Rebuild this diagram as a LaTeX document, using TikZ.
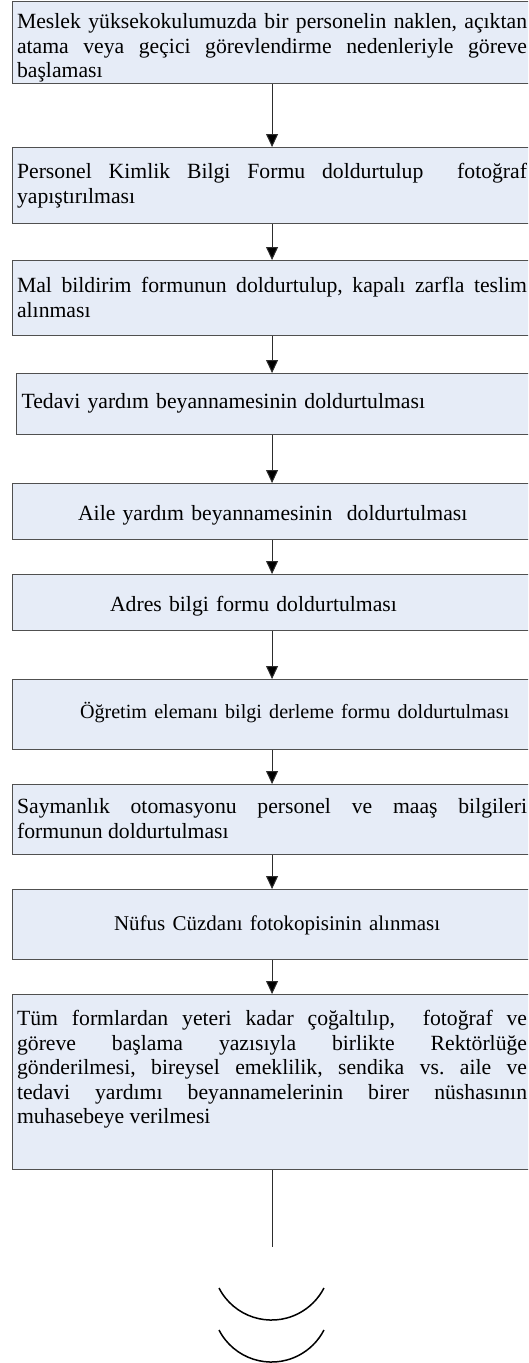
\documentclass[tikz,border=0pt]{standalone}
\usepackage{fontspec}
\setmainfont{Liberation Serif}
\usetikzlibrary{arrows.meta}
\definecolor{boxfill}{RGB}{230,236,247}
\definecolor{boxline}{RGB}{80,80,80}
\definecolor{stemline}{RGB}{45,45,45}
\newcommand\myboxfont{\fontsize{21.7}{24.5}\selectfont\frenchspacing\hyphenpenalty=10000\exhyphenpenalty=10000\tolerance=10000\emergencystretch=20pt}
\newcommand\mysmallfont{\fontsize{20.1}{24.5}\selectfont\frenchspacing}
\newcommand\mymidfont{\fontsize{21}{24.5}\selectfont\frenchspacing}
\tikzset{
  procbox/.style={draw=boxline, fill=boxfill, line width=1.1pt, anchor=north west,
    inner xsep=4.5pt, inner ysep=0pt, text width=510pt, align=justify, font=\myboxfont},
  procsingle/.style={procbox, align=left},
  boxgeom/.style 2 args={text height=#1pt, text depth={#2pt-#1pt}},
  flowarrow/.style={draw=stemline, line width=1pt, -{Triangle[width=12pt,length=13pt,fill=black]}},
  plainline/.style={draw=stemline, line width=1pt},
  arcline/.style={draw=black, line width=1.5pt}
}
\begin{document}
\begin{tikzpicture}[x=1pt,y=1pt]
\useasboundingbox (0,0) rectangle (528,-1363);
\clip (0,0) rectangle (528,-1363);

\node[procbox, boxgeom={27}{82}] (b1) at (12,-1)
  {Meslek yüksekokulumuzda bir personelin naklen, açıktan\linebreak atama veya geçici görevlendirme nedenleriyle göreve\linebreak başlaması};
\node[procbox, boxgeom={31}{76}] (b2) at (12,-147)
  {Personel Kimlik Bilgi Formu doldurtulup\ \ fotoğraf\linebreak yapıştırılması};
\node[procbox, boxgeom={32}{75}] (b3) at (12,-260)
  {Mal bildirim formunun doldurtulup, kapalı zarfla teslim\linebreak alınması};
\node[procsingle, boxgeom={35}{61}] (b4) at (16,-373)
  {\hspace*{0.5pt}Tedavi yardım beyannamesinin doldurtulması};
\node[procsingle, boxgeom={37}{56}] (b5) at (12,-483)
  {\hspace*{61pt}Aile yardım beyannamesinin\ \ doldurtulması};
\node[procsingle, boxgeom={37}{56}] (b6) at (12,-574)
  {\hspace*{93pt}Adres bilgi formu doldurtulması};
\node[procsingle, boxgeom={39}{70}] (b7) at (12,-679)
  {\mysmallfont\hspace*{63pt}Öğretim elemanı bilgi derleme formu doldurtulması};
\node[procbox, boxgeom={29}{70}] (b8) at (12,-784)
  {Saymanlık otomasyonu personel ve maaş bilgileri\linebreak formunun doldurtulması};
\node[procsingle, boxgeom={41}{70}] (b9) at (12,-889)
  {\mymidfont\hspace*{97pt}Nüfus Cüzdanı fotokopisinin alınması};
\node[procbox, boxgeom={31}{175}] (b10) at (12,-994)
  {Tüm formlardan yeteri kadar çoğaltılıp,\ \ fotoğraf ve\linebreak göreve başlama yazısıyla birlikte Rektörlüğe\linebreak gönderilmesi, bireysel emeklilik, sendika vs. aile ve\linebreak tedavi yardımı beyannamelerinin birer nüshasının\linebreak muhasebeye verilmesi};

\draw[flowarrow] (b1.south) -- (b1.south |- b2.north);
\draw[flowarrow] (b2.south) -- (b2.south |- b3.north);
\draw[flowarrow] (b3.south) -- (b3.south |- b4.north);
\draw[flowarrow] (b5.north |- b4.south) -- (b5.north);
\draw[flowarrow] (b5.south) -- (b5.south |- b6.north);
\draw[flowarrow] (b6.south) -- (b6.south |- b7.north);
\draw[flowarrow] (b7.south) -- (b7.south |- b8.north);
\draw[flowarrow] (b8.south) -- (b8.south |- b9.north);
\draw[flowarrow] (b9.south) -- (b9.south |- b10.north);

\coordinate (stemend) at (271.5,-1247);
\draw[plainline] (b10.south) -- (b10.south |- stemend);

\draw[arcline] (219,-1288) arc[start angle=207.2, end angle=332.8, radius=59];
\draw[arcline] (219,-1330) arc[start angle=207.2, end angle=332.8, radius=59];
\end{tikzpicture}
\end{document}
